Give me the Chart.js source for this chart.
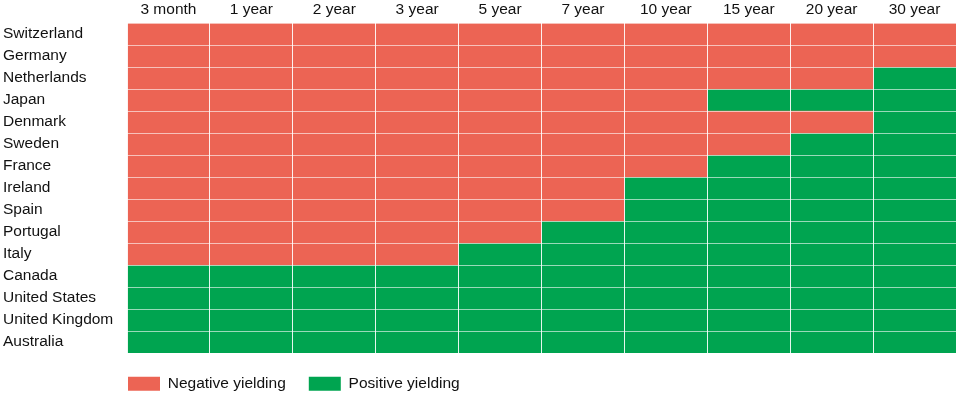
<!DOCTYPE html>
<html>
<head>
<meta charset="utf-8">
<script src="https://cdn.jsdelivr.net/npm/chart.js@4"></script>
<style>
  html, body { margin: 0; padding: 0; background: #fff; }
  #wrap { width: 960px; height: 394px; }
</style>
</head>
<body>
<div id="wrap"><canvas id="yieldChart"></canvas></div>
<script>
const countries = ['Switzerland', 'Germany', 'Netherlands', 'Japan', 'Denmark', 'Sweden', 'France',
    'Ireland', 'Spain', 'Portugal', 'Italy', 'Canada', 'United States', 'United Kingdom', 'Australia'];
const maturities = ['3 month', '1 year', '2 year', '3 year', '5 year', '7 year', '10 year', '15 year', '20 year', '30 year'];
// how many maturities (from the short end) yield below zero, per country
const negativeCount = [10, 10, 9, 7, 9, 8, 7, 6, 6, 5, 4, 0, 0, 0, 0];

const negativeColor = '#EC6454';
const positiveColor = '#00A450';
const labelFont = { family: '"Liberation Sans", Arial, sans-serif', size: 15.5 };

const total = maturities.length;
const negativeBars = negativeCount.map(n => n > 0 ? [0, n] : null);
const positiveBars = negativeCount.map(n => n < total ? [n, total] : null);

// nudge the legend so it starts under the grid
const legendShift = {
    id: 'legendShift',
    afterLayout(chart) {
        const pad = chart.options.plugins.legend.labels.padding;
        chart.legend.left = chart.chartArea.left + 1 - pad;
    }
};

const ctx = document.getElementById('yieldChart').getContext('2d');
new Chart(ctx, {
    type: 'bar',
    data: {
        labels: countries,
        datasets: [
            {
                label: 'Negative yielding',
                data: negativeBars,
                backgroundColor: negativeColor,
                barPercentage: 1,
                categoryPercentage: 1,
                borderWidth: 0
            },
            {
                label: 'Positive yielding',
                data: positiveBars,
                backgroundColor: positiveColor,
                barPercentage: 1,
                categoryPercentage: 1,
                borderWidth: 0
            }
        ]
    },
    plugins: [legendShift],
    options: {
        indexAxis: 'y',
        responsive: true,
        maintainAspectRatio: false,
        animation: false,
        layout: { padding: { left: 3, right: 4, top: 0, bottom: 0 } },
        font: labelFont,
        color: '#111',
        scales: {
            x: {
                type: 'linear',
                min: 0,
                max: total,
                position: 'bottom',
                ticks: { display: false, stepSize: 1 },
                grid: { color: 'rgba(255,255,255,0.9)', lineWidth: 1, drawTicks: false, z: 1 },
                border: { display: false },
                afterFit(scale) { scale.height = 0; }
            },
            xTop: {
                type: 'category',
                labels: maturities,
                position: 'top',
                offset: true,
                grid: { display: false, drawTicks: false },
                border: { display: false },
                ticks: { padding: 4, color: '#111', font: labelFont },
                afterFit(scale) { scale.height = 23; }
            },
            y: {
                type: 'category',
                stacked: true,
                grid: { color: 'rgba(255,255,255,0.6)', lineWidth: 1, drawTicks: false, offset: true, z: 1 },
                border: { display: false },
                ticks: { crossAlign: 'far', padding: 0, color: '#111', font: labelFont },
                afterFit(scale) { scale.width = 124; }
            }
        },
        plugins: {
            legend: {
                position: 'bottom',
                align: 'start',
                maxHeight: 41,
                labels: {
                    boxWidth: 32,
                    boxHeight: 14,
                    padding: 23,
                    color: '#111',
                    font: labelFont
                }
            },
            tooltip: { enabled: false }
        }
    }
});
</script>
</body>
</html>
